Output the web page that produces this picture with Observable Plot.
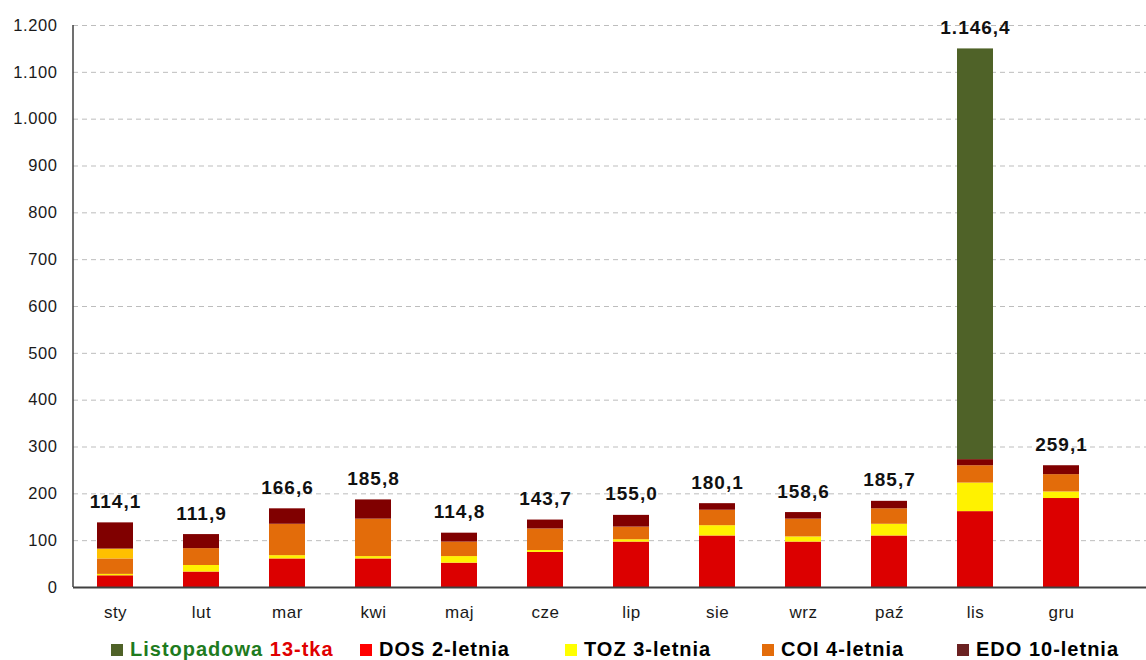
<!DOCTYPE html>
<html>
<head>
<meta charset="utf-8">
<script src="https://cdn.jsdelivr.net/npm/d3@7"></script>
<script src="https://cdn.jsdelivr.net/npm/@observablehq/plot@0.6"></script>
<style>
  html, body { margin: 0; padding: 0; background: #fff; overflow: hidden; }
  #wrap { position: relative; width: 1146px; height: 660px; font-family: "Liberation Sans", Arial, sans-serif; }
  #chart svg { display: block; }
  #chart g[aria-label="y-axis tick label"] text { letter-spacing: 0.6px; }
  #chart g[aria-label="x-axis tick label"] text { letter-spacing: 0.5px; }
  #chart g[aria-label="text"] text { letter-spacing: 1px; }
  .leg { position: absolute; top: 639px; font-size: 20px; font-weight: bold; letter-spacing: 1px; white-space: nowrap; line-height: 20px; height: 20px; color: #000; }
  .leg .sw { display: inline-block; width: 12px; height: 12px; margin-right: 7px; vertical-align: 0px; }
</style>
</head>
<body>
<div id="wrap">
  <div id="chart"></div>
  <div id="legend"></div>
</div>
<script>
// ---- data ----
const months = ["sty","lut","mar","kwi","maj","cze","lip","sie","wrz","paź","lis","gru"];
const dos   = [25, 33, 61, 61, 52, 75, 97, 110, 97, 110, 162, 190];
const toz   = [3, 14, 7, 5, 14, 4, 5, 22, 11, 25, 61, 14];
const coi   = [33, 36, 67, 80, 31, 46, 27, 33, 38, 33, 37, 37];
const inne  = [21, 0, 0, 0, 0, 0, 0, 0, 0, 0, 0, 0];
const edo   = [56, 30, 33, 41, 19, 19, 25, 14, 14, 16, 13, 19];
const listopadowa = [0, 0, 0, 0, 0, 0, 0, 0, 0, 0, 877, 0];
const labels = [114.1, 111.9, 166.6, 185.8, 114.8, 143.7, 155.0, 180.1, 158.6, 185.7, 1146.4, 259.1];
const yTicks = [0, 100, 200, 300, 400, 500, 600, 700, 800, 900, 1000, 1100, 1200];

const seriesNames  = ["DOS 2-letnia", "TOZ 3-letnia", "COI 4-letnia", "inne", "EDO 10-letnia", "Listopadowa 13-tka"];
const seriesColors = ["#DC0000", "#FFF200", "#E36C0A", "#FFC000", "#800000", "#4F6228"];
const seriesValues = [dos, toz, coi, inne, edo, listopadowa];

// ---- build table ----
const rows = [];
seriesNames.forEach((s, i) => months.forEach((m, j) => rows.push({month: m, series: s, value: seriesValues[i][j]})));
const totals = months.map((m, j) => ({month: m, total: d3.sum(seriesValues, v => v[j]), label: labels[j]}));

const pl = d3.formatLocale({decimal: ",", thousands: ".", grouping: [3], currency: ["", " zł"]});
const fmtLabel = pl.format(",.1f");
const fmtTick = pl.format(",d");

const W = 1146, H = 630;

const leftAxisLine = (index, scales, values, dim) => {
  const line = document.createElementNS("http://www.w3.org/2000/svg", "line");
  line.setAttribute("x1", dim.marginLeft);
  line.setAttribute("x2", dim.marginLeft);
  line.setAttribute("y1", dim.marginTop);
  line.setAttribute("y2", dim.height - dim.marginBottom);
  line.setAttribute("stroke", "#404040");
  line.setAttribute("stroke-width", "1.5");
  return line;
};

const chart = Plot.plot({
  width: W,
  height: H,
  marginTop: 25,
  marginBottom: 43,
  marginLeft: 73,
  marginRight: 0,
  style: {fontFamily: "'Liberation Sans', Arial, sans-serif", color: "#1a1a1a", background: "#fff"},
  x: {domain: months, range: [72, 1104], paddingInner: 0.58, paddingOuter: 0.29, label: null},
  y: {domain: [0, 1200], label: null},
  color: {domain: seriesNames, range: seriesColors},
  marks: [
    Plot.ruleY(yTicks.filter(v => v > 0), {stroke: "#bdbdbd", strokeWidth: 1, strokeDasharray: "5,4"}),
    Plot.axisY({ticks: yTicks, tickFormat: fmtTick, tickSize: 0, tickPadding: 16, fontSize: 16.5, label: null}),
    Plot.axisX({tickSize: 0, tickPadding: 18, fontSize: 17, label: null}),
    Plot.barY(rows, {x: "month", y: "value", fill: "series", order: seriesNames}),
    Plot.ruleY([0], {stroke: "#404040", strokeWidth: 2}),
    leftAxisLine,
    Plot.text(totals, {x: "month", y: "total", text: d => fmtLabel(d.label), dy: -21, lineAnchor: "middle", fontWeight: "bold", fontSize: 19, fill: "#111"})
  ]
});
document.getElementById("chart").appendChild(chart);

// ---- legend ----
const legendItems = [
  {left: 111, color: "#4F6228", html: '<span style="color:#1E7B1E">Listopadowa</span> <span style="color:#E00000">13-tka</span>'},
  {left: 360, color: "#FF0000", html: "DOS 2-letnia"},
  {left: 565, color: "#FFFF00", html: "TOZ 3-letnia"},
  {left: 762, color: "#E36C0A", html: "COI 4-letnia"},
  {left: 957, color: "#6B2222", html: "EDO 10-letnia"}
];
const legend = document.getElementById("legend");
legendItems.forEach(it => {
  const d = document.createElement("div");
  d.className = "leg";
  d.style.left = it.left + "px";
  d.innerHTML = '<span class="sw" style="background:' + it.color + '"></span>' + it.html;
  legend.appendChild(d);
});
</script>
</body>
</html>
